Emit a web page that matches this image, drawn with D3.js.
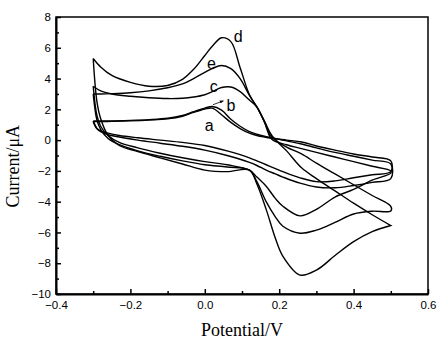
<!DOCTYPE html>
<html>
<head>
<meta charset="utf-8">
<script src="https://cdn.jsdelivr.net/npm/d3@7"></script>
<style>
	body { margin: 0; background: #fff; }
	.axis text { font-family: "Liberation Sans", Arial, sans-serif; font-size: 11.5px; fill: #000; }
	.axis path, .axis line { stroke: #000; }
	.curve { fill: none; stroke: #000; stroke-width: 1.4px; }
	.label { font-family: "Liberation Sans", Arial, sans-serif; font-size: 16px; }
	.title { font-family: "Liberation Serif", "Times New Roman", serif; font-size: 18px; }
</style>
</head>
<body>
<div id="chart-area"></div>
<script>
// Potentials (V) for the forward and the reverse sweep
let upperPotential = [-0.3, -0.28, -0.25, -0.2, -0.15, -0.1, -0.06, -0.03, 0, 0.02, 0.045, 0.07, 0.095, 0.12, 0.14, 0.16, 0.18, 0.22, 0.26, 0.3, 0.35, 0.4, 0.45, 0.5];
let lowerPotential = [0.5, 0.45, 0.4, 0.35, 0.3, 0.256, 0.21, 0.19, 0.165, 0.14, 0.12, 0.06, 0, -0.06, -0.12, -0.18, -0.23, -0.26, -0.28, -0.29, -0.3];

// Currents (uA), forward sweep
let aUpper = [1.2, 1.2, 1.22, 1.25, 1.3, 1.38, 1.55, 1.8, 2.02, 2.08, 1.65, 1.15, 0.75, 0.45, 0.3, 0.2, 0.12, 0.0, -0.12, -0.38, -0.65, -0.9, -1.1, -1.35];
let bUpper = [1.25, 1.24, 1.25, 1.28, 1.33, 1.42, 1.6, 1.85, 2.08, 2.18, 1.95, 1.35, 0.9, 0.55, 0.38, 0.25, 0.15, -0.05, -0.25, -0.5, -0.8, -1.05, -1.3, -1.55];
let cUpper = [3.5, 3.2, 3.0, 2.85, 2.75, 2.7, 2.72, 2.8, 2.95, 3.15, 3.42, 3.45, 3.15, 2.6, 2.15, 1.2, 0.05, -0.3, -0.55, -0.8, -1.1, -1.4, -1.7, -2.0];
let eUpper = [3.0, 3.0, 3.02, 3.08, 3.2, 3.4, 3.65, 4.0, 4.4, 4.65, 4.85, 4.65, 4.0, 2.9, 2.15, 1.2, 0.2, -0.45, -0.9, -1.5, -2.2, -2.9, -3.6, -4.3];
let dUpper = [5.3, 4.75, 4.2, 3.75, 3.5, 3.55, 3.95, 4.6, 5.5, 6.1, 6.65, 6.4, 4.7, 2.95, 2.15, 1.25, 0.3, -0.7, -1.8, -2.5, -3.3, -4.1, -4.85, -5.55];

// Currents (uA), reverse sweep
let aLower = [-2.05, -2.25, -2.45, -2.65, -2.7, -2.45, -2.05, -1.85, -1.6, -1.35, -1.15, -0.7, -0.35, -0.15, 0.0, 0.15, 0.3, 0.45, 0.6, 0.75, 1.2];
let bLower = [-2.5, -2.75, -2.95, -3.1, -3.05, -2.8, -2.4, -2.2, -1.95, -1.65, -1.45, -1.0, -0.65, -0.4, -0.2, 0.0, 0.2, 0.35, 0.55, 0.75, 1.25];
let cLower = [-2.15, -2.6, -3.2, -3.7, -4.5, -4.92, -4.3, -3.8, -3.0, -2.4, -1.95, -1.6, -1.4, -1.15, -0.85, -0.5, -0.15, 0.3, 0.9, 1.6, 3.5];
let eLower = [-4.6, -4.62, -4.8, -5.35, -5.85, -6.05, -5.6, -5.0, -4.0, -2.7, -1.95, -1.75, -1.6, -1.35, -1.05, -0.7, -0.3, 0.1, 0.7, 1.3, 3.0];
let dLower = [-5.55, -5.95, -6.6, -7.5, -8.45, -8.77, -7.55, -6.4, -4.5, -2.85, -1.95, -2.05, -1.95, -1.55, -1.15, -0.75, -0.35, 0.3, 1.4, 2.5, 5.3];

// Curve names and where their letters sit (potential, current)
let curveNames = ["a", "b", "c", "d", "e"];
let labelPotential = [0.012, 0.07, 0.024, 0.09, 0.018];
let labelCurrent = [0.95, 2.25, 3.5, 6.75, 5.0];

// Axis ticks
let xTicks = [-0.4, -0.2, 0.0, 0.2, 0.4, 0.6];
let xMinorTicks = [-0.3, -0.1, 0.1, 0.3, 0.5];
let yTicks = [-10, -8, -6, -4, -2, 0, 2, 4, 6, 8];
let yMinorTicks = [-9, -7, -5, -3, -1, 1, 3, 5, 7];

// Create SVG drawing space
let margin = {top: 17, right: 9, bottom: 46, left: 56};
let width = 437 - margin.left - margin.right;
let height = 340 - margin.top - margin.bottom;
let svg = d3.select("#chart-area")
	.append("svg")
	.attr("width", 437)
	.attr("height", 340)
	.append("g")
	.attr("transform", "translate(" + margin.left + "," + margin.top + ")");

// Scales
let x = d3.scaleLinear()
	.domain([-0.4, 0.6])
	.range([0, width]);
let y = d3.scaleLinear()
	.domain([-10, 8])
	.range([height, 0]);

// Frame
svg.append("rect")
	.attr("width", width)
	.attr("height", height)
	.attr("fill", "none")
	.attr("stroke", "#000")
	.attr("stroke-width", 1.5);

// Axes, ticks pointing inwards
let xAxis = d3.axisBottom(x)
	.tickValues(xTicks)
	.tickFormat(d3.format(".1f"))
	.tickSizeInner(-5)
	.tickSizeOuter(0)
	.tickPadding(7);
let xAxisGroup = svg.append("g")
	.attr("class", "axis x-axis")
	.attr("transform", "translate(0," + height + ")")
	.call(xAxis);
svg.append("g")
	.attr("class", "axis")
	.attr("transform", "translate(0," + height + ")")
	.call(d3.axisBottom(x).tickValues(xMinorTicks).tickFormat("").tickSizeInner(-3).tickSizeOuter(0))
	.select(".domain").remove();

let yAxis = d3.axisLeft(y)
	.tickValues(yTicks)
	.tickSizeInner(-5)
	.tickSizeOuter(0)
	.tickPadding(5);
let yAxisGroup = svg.append("g")
	.attr("class", "axis y-axis")
	.call(yAxis);
svg.append("g")
	.attr("class", "axis")
	.call(d3.axisLeft(y).tickValues(yMinorTicks).tickFormat("").tickSizeInner(-3).tickSizeOuter(0))
	.select(".domain").remove();

svg.selectAll(".axis line").attr("stroke-width", 1.5);
svg.selectAll(".x-axis .domain, .y-axis .domain").attr("stroke-width", 2);

// Build closed loops: forward sweep, then reverse sweep
let uppers = {a: aUpper, b: bUpper, c: cUpper, d: dUpper, e: eUpper};
let lowers = {a: aLower, b: bLower, c: cLower, d: dLower, e: eLower};
let loops = curveNames.map(name => {
	let pts = upperPotential.map((v, i) => [v, uppers[name][i]]);
	lowerPotential.forEach((v, i) => pts.push([v, lowers[name][i]]));
	return pts;
});

let line = d3.line()
	.x(d => x(d[0]))
	.y(d => y(d[1]))
	.curve(d3.curveCatmullRom.alpha(0.5));

svg.selectAll(".curve")
	.data(loops)
	.enter()
	.append("path")
	.attr("class", "curve")
	.attr("d", line);

// Curve letters
svg.selectAll(".label")
	.data(curveNames)
	.enter()
	.append("text")
	.attr("class", "label")
	.attr("x", (d, i) => x(labelPotential[i]))
	.attr("y", (d, i) => y(labelCurrent[i]))
	.attr("text-anchor", "middle")
	.attr("dy", "0.35em")
	.text(d => d);

// Small arrow pointing at b
svg.append("defs").append("marker")
	.attr("id", "head")
	.attr("viewBox", "0 0 10 10")
	.attr("refX", 9)
	.attr("refY", 5)
	.attr("markerWidth", 5)
	.attr("markerHeight", 5)
	.attr("orient", "auto")
	.append("path")
	.attr("d", "M0,1L10,5L0,9Z");
svg.append("line")
	.attr("x1", x(0.022))
	.attr("y1", y(2.3))
	.attr("x2", x(0.05))
	.attr("y2", y(2.55))
	.attr("stroke", "#000")
	.attr("stroke-width", 0.8)
	.attr("marker-end", "url(#head)");

// Axis titles
svg.append("text")
	.attr("class", "title")
	.attr("x", x(0.1))
	.attr("y", height + 42)
	.attr("text-anchor", "middle")
	.text("Potential/V");
svg.append("text")
	.attr("class", "title")
	.attr("transform", "translate(" + (-margin.left + 19) + "," + y(-1.7) + ") rotate(-90)")
	.attr("text-anchor", "middle")
	.text("Current/μA");
</script>
</body>
</html>
